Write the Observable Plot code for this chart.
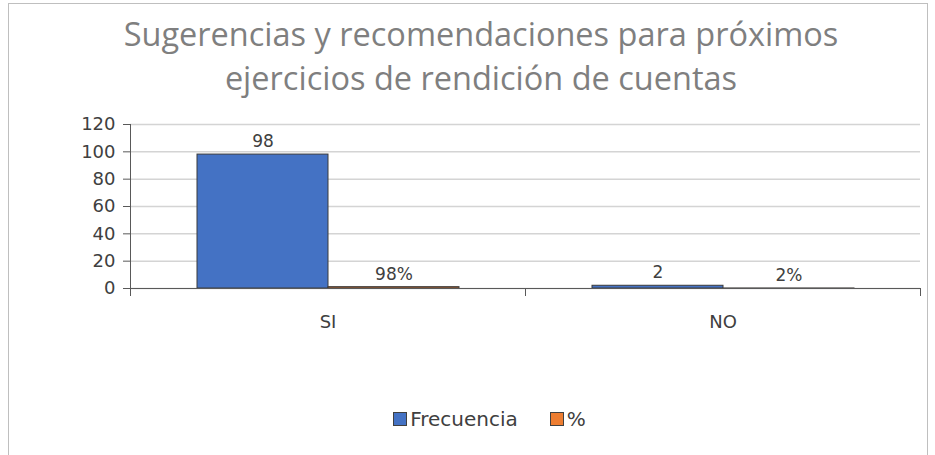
<!DOCTYPE html>
<html>
<head>
<meta charset="utf-8">
<script src="https://cdn.jsdelivr.net/npm/d3@7"></script>
<script src="https://cdn.jsdelivr.net/npm/@observablehq/plot@0.6"></script>
<style>
  body { margin: 0; background: #fff; width: 935px; height: 455px; overflow: hidden; position: relative; font-family: "DejaVu Sans", sans-serif; }
  #frame { position: absolute; left: 8px; top: 3px; width: 920px; height: 470px; border: 1px solid #bfbfbf; box-sizing: border-box; }
  #title { position: absolute; left: 0; top: 12px; width: 962px; text-align: center; font-family: "Open Sans", sans-serif; font-size: 32.5px; line-height: 44px; color: #7f7f7f; }
  #chart { position: absolute; left: 0; top: 110px; }
  #legend { position: absolute; left: 0; top: 407px; width: 935px; display: flex; justify-content: center; padding-left: 44px; box-sizing: border-box; font-size: 20px; color: #404040; }
  .item { display: flex; align-items: center; margin: 0 16px; }
  .sw { width: 12px; height: 12px; border: 1px solid #404040; margin-right: 3px; }
</style>
</head>
<body>
<div id="frame"></div>
<div id="title">Sugerencias y recomendaciones para próximos<br>ejercicios de rendición de cuentas</div>
<div id="chart"></div>
<div id="legend"></div>
<script>
const categories = ["SI", "NO"];
const seriesNames = ["Frecuencia", "%"];
const frecuencia = [98, 2];
const porcentaje = [0.98, 0.02];
const porcentajeLabels = ["98%", "2%"];
const yTicks = [0, 20, 40, 60, 80, 100, 120];
const colors = ["#4472c4", "#ed7d31"];

const rows = [];
categories.forEach((c, i) => {
  rows.push({cat: c, series: seriesNames[0], value: frecuencia[i], label: String(frecuencia[i])});
  rows.push({cat: c, series: seriesNames[1], value: porcentaje[i], label: porcentajeLabels[i]});
});

const H = 250, mTop = 14, mBottom = 72;
const plotH = H - mTop - mBottom;

const chart = Plot.plot({
  width: 935,
  height: H,
  marginLeft: 130,
  marginRight: 15,
  marginTop: mTop,
  marginBottom: mBottom,
  style: {fontFamily: "DejaVu Sans, sans-serif", color: "#404040", background: "transparent"},
  fx: {domain: categories, padding: 0, label: null, axis: null},
  x: {domain: seriesNames, paddingInner: 0, paddingOuter: 0.5, axis: null},
  y: {domain: [0, 120], label: null},
  color: {domain: seriesNames, range: colors},
  marks: [
    Plot.gridY(yTicks, {stroke: "#d4d4d4", strokeOpacity: 1, strokeWidth: 1.5}),
    Plot.frame({anchor: "left", facetAnchor: "left", insetBottom: -7, stroke: "#595959"}),
    Plot.frame({anchor: "left", insetTop: plotH, insetBottom: -7, stroke: "#595959"}),
    Plot.frame({anchor: "right", insetTop: plotH, insetBottom: -7, stroke: "#595959"}),
    Plot.barY(rows, {fx: "cat", x: "series", y: "value", fill: "series", stroke: "#3a3a3a", strokeWidth: 1, inset: 0}),
    Plot.ruleY([0], {stroke: "#595959"}),
    Plot.text(rows, {fx: "cat", x: "series", y: "value", text: "label", dy: -13, fontSize: 17, fill: "#404040"}),
    Plot.axisY(yTicks, {tickSize: 7, tickPadding: 8, fontSize: 18, stroke: "#595959", fill: "#404040"}),
    Plot.axisFx({anchor: "bottom", tickSize: 0, tickPadding: 27, fontSize: 18, fill: "#404040", label: null})
  ]
});
document.getElementById("chart").appendChild(chart);

const legend = document.getElementById("legend");
seriesNames.forEach((s, i) => {
  const it = document.createElement("div");
  it.className = "item";
  const sw = document.createElement("div");
  sw.className = "sw";
  sw.style.background = colors[i];
  const t = document.createElement("span");
  t.textContent = s;
  it.appendChild(sw); it.appendChild(t);
  legend.appendChild(it);
});
</script>
</body>
</html>
